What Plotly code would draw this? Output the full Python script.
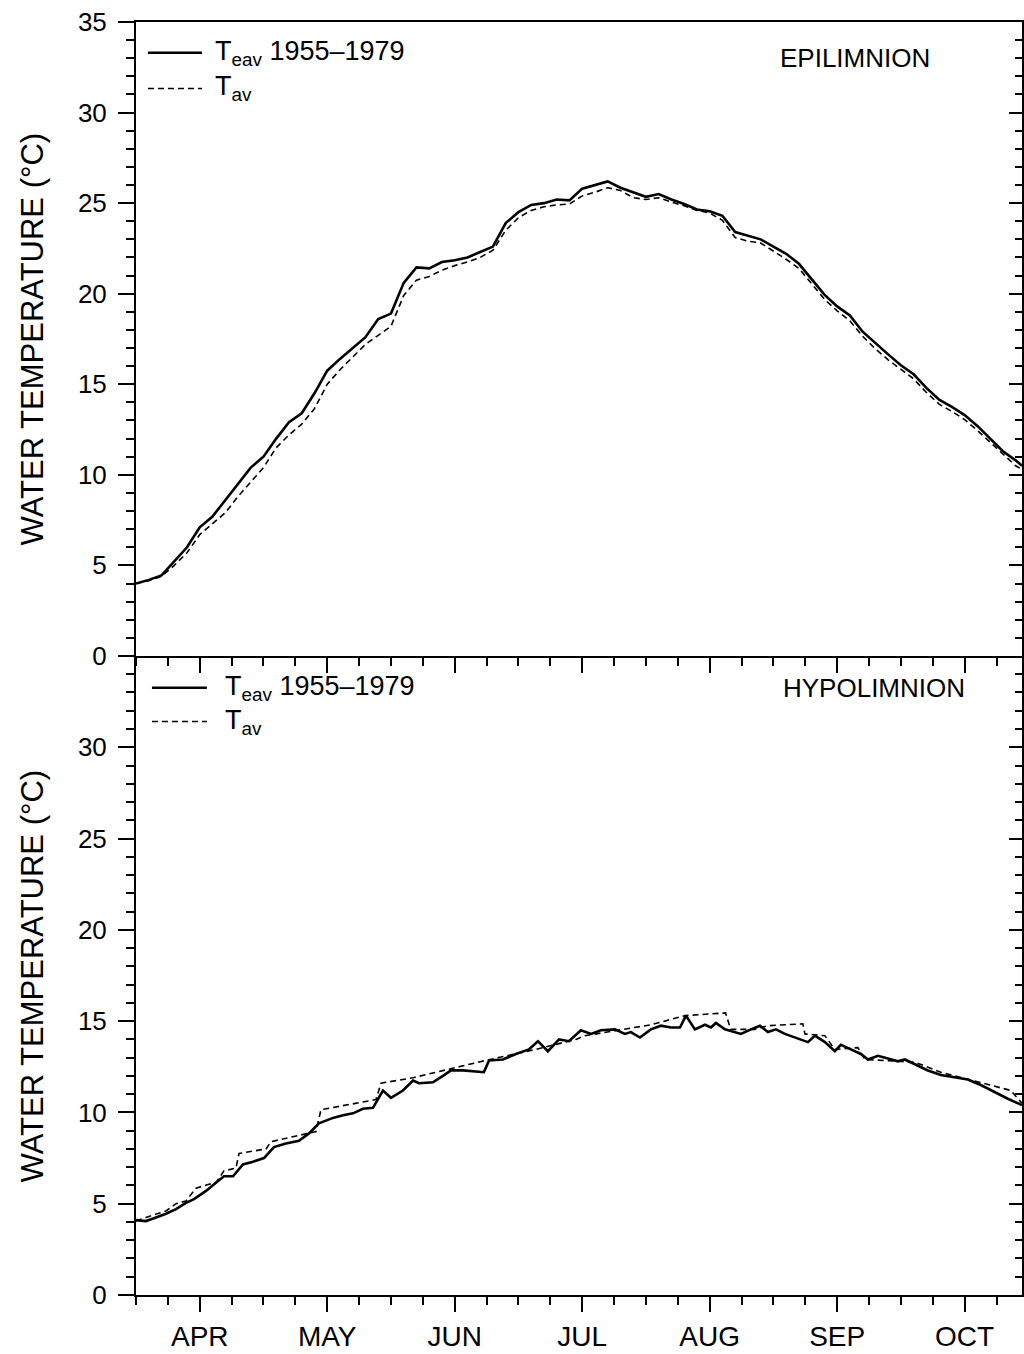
import plotly.graph_objects as go

# Month axis: integer = first day of month (4 = April ... 10 = October)
MONTH_POS = [4, 5, 6, 7, 8, 9, 10]
MONTHS = ["APR", "MAY", "JUN", "JUL", "AUG", "SEP", "OCT"]
X_RANGE = [3.5, 10.45]
Y_RANGE = [0, 35]
TOP_TICKS = [0, 5, 10, 15, 20, 25, 30, 35]
LOWER_TICKS = [0, 5, 10, 15, 20, 25, 30]

# ---- Epilimnion (upper layer) ----
epi_x = [3.5, 3.6, 3.7, 3.8, 3.9, 4.0, 4.1, 4.2, 4.3, 4.4,
         4.5, 4.6, 4.7, 4.8, 4.9, 5.0, 5.1, 5.2, 5.3, 5.4,
         5.5, 5.6, 5.7, 5.8, 5.9, 6.0, 6.1, 6.2, 6.3, 6.4,
         6.5, 6.6, 6.7, 6.8, 6.9, 7.0, 7.1, 7.2, 7.3, 7.4,
         7.5, 7.6, 7.7, 7.8, 7.9, 8.0, 8.1, 8.2, 8.3, 8.4,
         8.5, 8.6, 8.7, 8.8, 8.9, 9.0, 9.1, 9.2, 9.3, 9.4,
         9.5, 9.6, 9.7, 9.8, 9.9, 10.0, 10.1, 10.2, 10.3, 10.4,
         10.45]
epi_teav = [4.0, 4.2, 4.45, 5.2, 6.0, 7.1, 7.7, 8.6, 9.5, 10.4,
            11.0, 12.0, 12.9, 13.4, 14.5, 15.75, 16.4, 17.0, 17.6, 18.6,
            18.9, 20.6, 21.45, 21.4, 21.75, 21.85, 22.0, 22.3, 22.6, 23.9,
            24.5, 24.9, 25.0, 25.2, 25.15, 25.8, 26.0, 26.2, 25.85, 25.6,
            25.35, 25.5, 25.2, 24.95, 24.65, 24.55, 24.3, 23.4, 23.2, 23.0,
            22.6, 22.2, 21.65, 20.8, 19.95, 19.3, 18.8, 17.9, 17.25, 16.65,
            16.05, 15.55, 14.8, 14.15, 13.75, 13.3, 12.7, 12.0, 11.3, 10.8,
            10.5]
epi_tav = [4.0, 4.15, 4.4, 5.0, 5.7, 6.7, 7.3, 7.9, 8.8, 9.6,
           10.4, 11.5, 12.2, 12.8, 13.65, 15.0, 15.8, 16.5, 17.2, 17.7,
           18.2, 19.9, 20.75, 20.95, 21.3, 21.55, 21.75, 22.0, 22.4, 23.5,
           24.2, 24.6, 24.8, 24.9, 24.95, 25.4, 25.6, 25.85, 25.7, 25.3,
           25.2, 25.3, 25.05, 24.85, 24.6, 24.45, 24.05, 23.1, 22.9, 22.8,
           22.35, 21.9, 21.4, 20.55, 19.7, 19.05, 18.5, 17.65, 16.95, 16.35,
           15.8, 15.3, 14.55, 13.9, 13.5, 13.05, 12.45, 11.8, 11.1, 10.5,
           10.3]

# ---- Hypolimnion (lower layer) ----
hypo_teav_x = [3.500, 3.578, 3.657, 3.735, 3.814, 3.892, 3.955, 4.049, 4.127, 4.190,
               4.261, 4.339, 4.418, 4.504, 4.582, 4.676, 4.778, 4.857, 4.935, 5.045,
               5.124, 5.202, 5.280, 5.359, 5.437, 5.500, 5.594, 5.673, 5.720, 5.829,
               5.908, 5.971, 6.065, 6.167, 6.229, 6.269, 6.378, 6.480, 6.582, 6.653,
               6.731, 6.818, 6.896, 6.990, 7.069, 7.147, 7.257, 7.335, 7.382, 7.453,
               7.539, 7.618, 7.696, 7.767, 7.814, 7.884, 7.963, 8.010, 8.049, 8.120,
               8.198, 8.245, 8.324, 8.394, 8.457, 8.520, 8.590, 8.676, 8.771, 8.825,
               8.904, 8.982, 9.029, 9.108, 9.186, 9.241, 9.320, 9.398, 9.476, 9.531,
               9.610, 9.712, 9.814, 9.924, 10.025, 10.127, 10.237, 10.339, 10.45]
hypo_teav = [4.1, 4.05, 4.25, 4.45, 4.7, 5.05, 5.25, 5.7, 6.15, 6.5,
             6.5, 7.15, 7.3, 7.5, 8.1, 8.3, 8.45, 8.85, 9.4, 9.7,
             9.85, 9.95, 10.2, 10.25, 11.2, 10.8, 11.2, 11.75, 11.6, 11.65,
             12.0, 12.3, 12.3, 12.25, 12.2, 12.85, 12.9, 13.2, 13.45, 13.9,
             13.35, 14.0, 13.9, 14.5, 14.3, 14.5, 14.55, 14.3, 14.4, 14.1,
             14.55, 14.75, 14.65, 14.65, 15.3, 14.55, 14.8, 14.65, 14.9, 14.55,
             14.4, 14.3, 14.55, 14.75, 14.4, 14.55, 14.3, 14.1, 13.85, 14.2,
             13.85, 13.35, 13.7, 13.45, 13.2, 12.9, 13.1, 12.95, 12.8, 12.9,
             12.65, 12.3, 12.05, 11.9, 11.8, 11.5, 11.1, 10.75, 10.4]

hypo_tav_x = [3.500, 3.578, 3.735, 3.814, 3.892, 3.971, 4.065, 4.127, 4.190, 4.284,
              4.308, 4.520, 4.559, 4.810, 4.912, 4.951, 5.382, 5.422, 5.673, 6.245,
              6.635, 6.951, 7.022, 7.280, 7.539, 7.806, 8.125, 8.165, 8.353, 8.457,
              8.731, 8.747, 8.904, 8.982, 9.163, 9.218, 9.610, 9.814, 10.127, 10.363,
              10.45]
hypo_tav = [4.05, 4.25, 4.6, 5.0, 5.15, 5.85, 6.05, 6.15, 6.8, 6.95,
            7.75, 8.0, 8.4, 8.8, 8.95, 10.15, 10.7, 11.6, 11.9, 12.85,
            13.45, 14.0, 14.2, 14.5, 14.8, 15.3, 15.45, 14.55, 14.55, 14.75,
            14.85, 14.3, 14.2, 13.45, 13.55, 12.9, 12.75, 12.2, 11.65, 11.2,
            10.5]

FONT = "Liberation Sans, Arial, sans-serif"
INK = "black"

fig = go.Figure()

solid = dict(color=INK, width=2.6)
dashed = dict(color=INK, width=1.6, dash="6px,4px")

fig.add_trace(go.Scatter(x=epi_x, y=epi_teav, mode="lines", line=solid,
                         xaxis="x", yaxis="y", showlegend=False))
fig.add_trace(go.Scatter(x=epi_x, y=epi_tav, mode="lines", line=dashed,
                         xaxis="x", yaxis="y", showlegend=False))
fig.add_trace(go.Scatter(x=hypo_teav_x, y=hypo_teav, mode="lines", line=solid,
                         xaxis="x2", yaxis="y2", showlegend=False))
fig.add_trace(go.Scatter(x=hypo_tav_x, y=hypo_tav, mode="lines", line=dashed,
                         xaxis="x2", yaxis="y2", showlegend=False))

# panel split (fraction of plot height)
SPLIT = 0.502

x_common = dict(range=X_RANGE, showgrid=False, zeroline=False, showline=True,
                linecolor=INK, linewidth=2, ticks="outside", ticklen=15,
                tickwidth=2, tickcolor=INK, tickmode="array",
                tickvals=MONTH_POS,
                minor=dict(tick0=3.5, dtick=0.25, ticks="outside", ticklen=8,
                           tickwidth=1.5, tickcolor=INK))
y_common = dict(range=Y_RANGE, showgrid=False, zeroline=False, showline=True,
                linecolor=INK, linewidth=2, ticks="outside", ticklen=16,
                tickwidth=2, tickcolor=INK, tickmode="array",
                ticklabelstandoff=6,
                tickfont=dict(family=FONT, size=26, color=INK),
                minor=dict(tick0=0, dtick=1, ticks="outside", ticklen=8,
                           tickwidth=1.5, tickcolor=INK))
y_right = dict(range=Y_RANGE, showgrid=False, zeroline=False, showline=True,
               linecolor=INK, linewidth=2, ticks="inside", ticklen=13,
               tickwidth=2, tickcolor=INK, dtick=5, tick0=0, side="right",
               showticklabels=False,
               minor=dict(tick0=0, dtick=1, ticks="inside", ticklen=7,
                          tickwidth=1.5, tickcolor=INK))

fig.update_layout(
    width=1024, height=1354,
    margin=dict(l=136, r=2, t=22, b=49),
    paper_bgcolor="white", plot_bgcolor="white",
    font=dict(family=FONT, color=INK),
    xaxis=dict(**x_common, anchor="y", mirror=True, showticklabels=False),
    yaxis=dict(**y_common, tickvals=TOP_TICKS, domain=[SPLIT, 1], anchor="x"),
    xaxis2=dict(**x_common, anchor="y2", ticktext=MONTHS,
                tickfont=dict(family=FONT, size=28, color=INK)),
    yaxis2=dict(**y_common, tickvals=LOWER_TICKS, domain=[0, SPLIT], anchor="x2"),
    yaxis3=dict(**y_right, overlaying="y", anchor="x"),
    yaxis4=dict(**y_right, overlaying="y2", anchor="x2"),
)

# hidden carriers so the right-hand frame axes are drawn
fig.add_trace(go.Scatter(x=[None], y=[None], xaxis="x", yaxis="y3",
                         showlegend=False, hoverinfo="skip"))
fig.add_trace(go.Scatter(x=[None], y=[None], xaxis="x2", yaxis="y4",
                         showlegend=False, hoverinfo="skip"))

# y-axis titles
for yc in (0.7514, 0.251):
    fig.add_annotation(text="WATER TEMPERATURE (°C)", xref="paper", yref="paper",
                       x=-0.1163, y=yc, textangle=-90, showarrow=False,
                       xanchor="center", yanchor="middle",
                       font=dict(family=FONT, size=31, color=INK))

# panel labels
fig.add_annotation(text="EPILIMNION", xref="paper", yref="paper", x=0.8115, y=0.9719,
                   showarrow=False, xanchor="center", yanchor="middle",
                   font=dict(family=FONT, size=26, color=INK))
fig.add_annotation(text="HYPOLIMNION", xref="paper", yref="paper", x=0.833, y=0.4770,
                   showarrow=False, xanchor="center", yanchor="middle",
                   font=dict(family=FONT, size=26, color=INK))

# legend keys for each panel
legend_rows = [
    # (line x0, line x1, text x, solid y, dashed y)
    (0.0135, 0.0745, 0.0869, 0.9758, 0.9478),
    (0.0180, 0.0800, 0.0982, 0.4770, 0.4505),
]
for x0, x1, xt, ys, yd in legend_rows:
    fig.add_shape(type="line", xref="paper", yref="paper", x0=x0, x1=x1, y0=ys, y1=ys,
                  line=dict(color=INK, width=2.4))
    fig.add_shape(type="line", xref="paper", yref="paper", x0=x0, x1=x1, y0=yd, y1=yd,
                  line=dict(color=INK, width=1.6, dash="6px,4px"))
    fig.add_annotation(text="T<sub>eav</sub> 1955\u20131979", xref="paper", yref="paper",
                       x=xt, y=ys, showarrow=False, xanchor="left", yanchor="middle",
                       font=dict(family=FONT, size=27, color=INK))
    fig.add_annotation(text="T<sub>av</sub>", xref="paper", yref="paper",
                       x=xt, y=yd, showarrow=False, xanchor="left", yanchor="middle",
                       font=dict(family=FONT, size=27, color=INK))

fig.write_html("out.html")
